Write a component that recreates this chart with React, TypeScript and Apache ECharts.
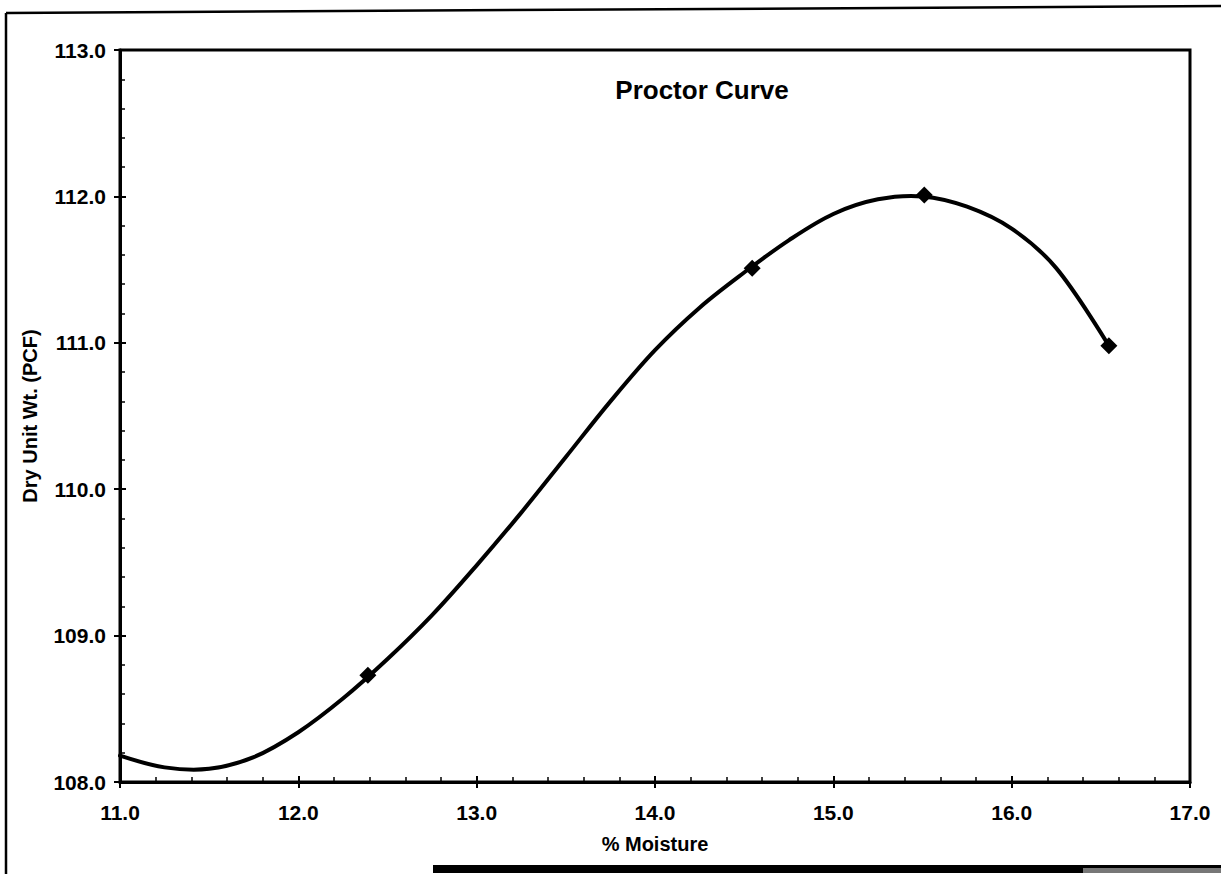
import React, { useEffect, useRef } from "react";
import * as echarts from "echarts";

const titleText = "Proctor Curve";
const xAxisName = "% Moisture";
const yAxisName = "Dry Unit Wt. (PCF)";

// measured test points (moisture %, dry unit weight pcf)
const testMoisture = [12.39, 14.545, 15.51, 16.545];
const testDensity = [108.73, 111.51, 112.01, 110.98];

// points
const curveMoisture = [11.0, 11.25, 11.5, 11.75, 12.0, 12.25, 12.5, 12.75, 13.0, 13.25, 13.5, 13.75, 14.0, 14.25, 14.5, 14.75, 15.0, 15.25, 15.5, 15.75, 16.0, 16.25, 16.545];
const curveDensity = [108.18, 108.1, 108.09, 108.17, 108.34, 108.57, 108.84, 109.14, 109.48, 109.84, 110.22, 110.6, 110.95, 111.24, 111.48, 111.7, 111.88, 111.98, 112.0, 111.93, 111.78, 111.51, 110.98];

const xMin = 11, xMax = 17, xStep = 1;
const yMin = 108, yMax = 113, yStep = 1;

const FONT = "'Liberation Sans', Arial, Helvetica, sans-serif";

export default function App() {
  const ref = useRef<HTMLDivElement>(null);
  useEffect(() => {
    if (!ref.current) return;
    const chart = echarts.init(ref.current, null, { renderer: "svg" });
    const pts = testMoisture.map((x, i) => [x, testDensity[i]]);
    const fmt = (v: number) => v.toFixed(1);
    const labelStyle = { color: "#000", fontFamily: FONT, fontWeight: "bold" as const, fontSize: 21 };
    chart.setOption({
      animation: false,
      backgroundColor: "#fff",
      title: {
        text: titleText,
        left: 697,
        top: 72,
        textAlign: "center",
        textStyle: { color: "#000", fontFamily: FONT, fontWeight: "bold", fontSize: 26 },
      },
      grid: {
        left: 120,
        top: 50,
        right: 31,
        bottom: 92,
        show: true,
        borderColor: "#000",
        borderWidth: 3,
        backgroundColor: "transparent",
      },
      xAxis: [
        {
          type: "value",
          position: "bottom",
          min: xMin,
          max: xMax,
          interval: xStep,
          name: xAxisName,
          nameLocation: "middle",
          nameGap: 52,
          nameTextStyle: { ...labelStyle, fontSize: 20 },
          axisLine: { show: true, lineStyle: { color: "#000", width: 3 } },
          axisTick: { show: true, inside: true, length: 6, lineStyle: { color: "#000", width: 2 } },
          minorTick: { show: true, splitNumber: 5, length: 5, lineStyle: { color: "#000", width: 1.5 } },
          axisLabel: { ...labelStyle, margin: 20, formatter: fmt },
          splitLine: { show: false },
        },
        {
          type: "value",
          position: "bottom",
          min: xMin,
          max: xMax,
          interval: xStep,
          axisLine: { show: false },
          axisTick: { show: true, inside: false, length: 6, lineStyle: { color: "#000", width: 2 } },
          axisLabel: { show: false },
          splitLine: { show: false },
        },
      ],
      yAxis: [
        {
          type: "value",
          position: "left",
          min: yMin,
          max: yMax,
          interval: yStep,
          name: yAxisName,
          nameLocation: "middle",
          nameGap: 80,
          nameTextStyle: { ...labelStyle, fontSize: 20 },
          axisLine: { show: true, lineStyle: { color: "#000", width: 3 } },
          axisTick: { show: true, inside: true, length: 6, lineStyle: { color: "#000", width: 2 } },
          minorTick: { show: true, splitNumber: 5, length: 5, lineStyle: { color: "#000", width: 1.5 } },
          axisLabel: { ...labelStyle, margin: 14, formatter: fmt },
          splitLine: { show: false },
        },
        {
          type: "value",
          position: "left",
          min: yMin,
          max: yMax,
          interval: yStep,
          axisLine: { show: false },
          axisTick: { show: true, inside: false, length: 6, lineStyle: { color: "#000", width: 2 } },
          axisLabel: { show: false },
          splitLine: { show: false },
        },
      ],
      series: [
        {
          type: "custom",
          coordinateSystem: "cartesian2d",
          xAxisIndex: 0,
          yAxisIndex: 0,
          data: [[curveMoisture[0], curveDensity[0]]],
          silent: true,
          z: 3,
          renderItem: (_params: any, api: any) => {
            const points = curveMoisture.map((x, i) => api.coord([x, curveDensity[i]]));
            return {
              type: "polyline",
              shape: { points, smooth: 0.35 },
              style: { stroke: "#000", lineWidth: 4, fill: "none", lineJoin: "round", lineCap: "round" },
            };
          },
        },
        {
          type: "scatter",
          data: pts,
          symbol: "diamond",
          symbolSize: 17,
          itemStyle: { color: "#000", opacity: 1 },
          z: 4,
        },
      ],
      graphic: [
        { type: "line", shape: { x1: 6, y1: 13, x2: 1221, y2: 6 }, style: { stroke: "#000", lineWidth: 2.5 } },
        { type: "line", shape: { x1: 6, y1: 13, x2: 6, y2: 874 }, style: { stroke: "#000", lineWidth: 2.5 } },
        { type: "rect", shape: { x: 433, y: 865, width: 650, height: 8 }, style: { fill: "#000" } },
        { type: "rect", shape: { x: 1083, y: 865, width: 138, height: 3 }, style: { fill: "#000" } },
        { type: "rect", shape: { x: 1083, y: 868, width: 138, height: 5 }, style: { fill: "#777" } },
      ],
    });
    return () => chart.dispose();
  }, []);
  return (
    <div
      ref={ref}
      style={{ position: "fixed", left: 0, top: 0, width: 1221, height: 874, background: "#fff" }}
    />
  );
}
